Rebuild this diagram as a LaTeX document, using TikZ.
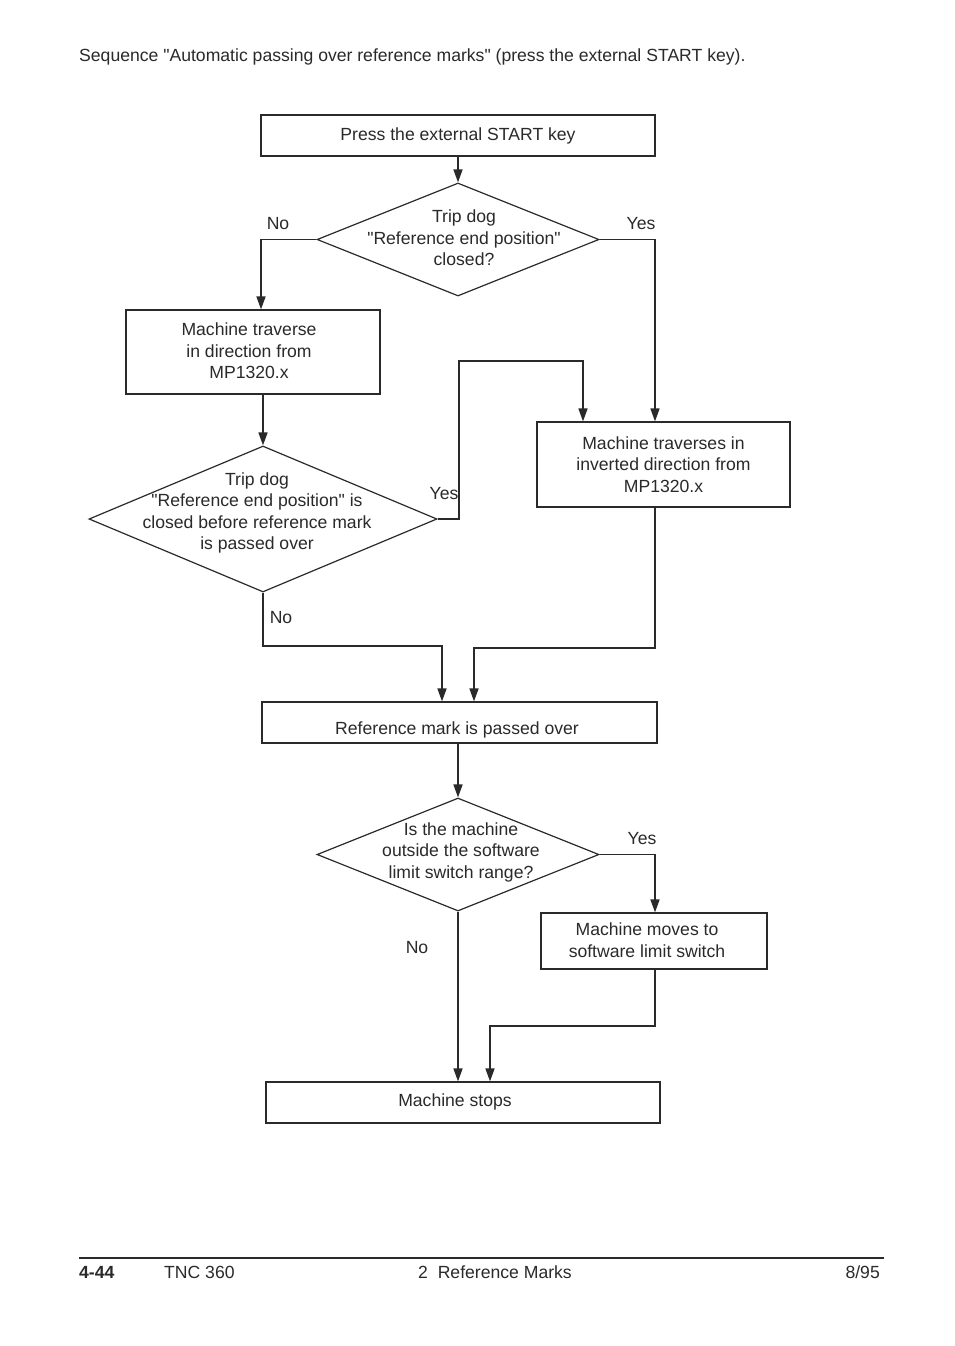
\documentclass[tikz,border=0pt]{standalone}
\usepackage{fontspec}
\setmainfont{Liberation Sans}[Ligatures=TeXOff]
\usetikzlibrary{arrows.meta,shapes.geometric}
\definecolor{ink}{HTML}{2A2A2A}
\newcommand{\sq}{{\char34}}
\begin{document}
\begin{tikzpicture}[x=1pt,y=-1pt,
  txt/.style={font=\fontsize{17.6}{21.5}\selectfont, text=ink, inner sep=0pt, align=center},
  box/.style={txt, draw=ink, line width=1.2pt},
  dec/.style={diamond, draw=ink, line width=1.2pt, inner sep=0pt},
  conn/.style={draw=ink, line width=1.6pt},
  arr/.style={conn, -{Triangle[length=13pt,width=9pt]}},
  lab/.style={txt}
]
\useasboundingbox (0,0) rectangle (954,1346);
\fill[white] (0,0) rectangle (954,1346);

% header
\node[txt, anchor=base west] (head) at (79,62) {Sequence \sq Automatic passing over reference marks\sq{} (press the external START key).};

% boxes
\node[box, minimum width=394pt, minimum height=41pt] (b1) at (458,135.5) {Press the external START key};
\node[box, minimum width=254pt, minimum height=84pt] (b2) at (253,352) {};
\node[txt] (b2t) at (249,351) {Machine traverse\\in direction from\\MP1320.x};
\node[box, minimum width=253pt, minimum height=85pt] (b3) at (663.5,464.5) {Machine traverses in\\inverted direction from\\MP1320.x};
\node[box, minimum width=395pt, minimum height=41pt] (b4) at (459.5,722.5) {};
\node[txt] (b4t) at (457,730) {Reference mark is passed over};
\node[box, minimum width=226pt, minimum height=56pt] (b5) at (654,941) {};
\node[txt] (b5t) at (647,940) {Machine moves to\\software limit switch};
\node[box, minimum width=394pt, minimum height=41pt] (b6) at (463,1102.5) {};
\node[txt] (b6t) at (455,1102) {Machine stops};

% decisions
\node[dec, minimum width=282pt, minimum height=113pt] (d1) at (458,239.5) {};
\node[txt] (d1t) at (464,238) {Trip dog\\\sq Reference end position\sq\\closed?};
\node[dec, minimum width=348pt, minimum height=146pt] (d2) at (263,519) {};
\node[txt] (d2t) at (257,513) {Trip dog\\\sq Reference end position\sq{} is\\closed before reference mark\\is passed over};
\node[dec, minimum width=282pt, minimum height=113pt] (d3) at (458,854.5) {};
\node[txt] (d3t) at (461,852) {Is the machine\\outside the software\\limit switch range?};

% branch labels
\node[lab] (l1) at (278,224) {No};
\node[lab] (l2) at (641,224) {Yes};
\node[lab] (l3) at (444,494) {Yes};
\node[lab] (l4) at (281,618) {No};
\node[lab] (l5) at (642,839) {Yes};
\node[lab] (l6) at (417,948) {No};

% helper coordinates
\coordinate (c1) at (459,361);
\coordinate (c2) at (442,646);
\coordinate (c3) at (474,648);
\coordinate (c4) at (490,1026);

% connectors
\draw[arr] (d1.north |- b1.south) -- (d1.north);
\draw[arr] (d1.west) -| ([xshift=8pt]b2.north);
\draw[arr] (d1.east) -| ([xshift=-8.5pt]b3.north);
\draw[arr] (d2.north |- b2.south) -- (d2.north);
\draw[arr] (d2.east) -| (c1) -| ([xshift=-80.5pt]b3.north);
\draw[arr] (d2.south) |- (c2) -- (c2 |- b4.north);
\draw[arr] ([xshift=-8.5pt]b3.south) |- (c3) -- (c3 |- b4.north);
\draw[arr] (d3.north |- b4.south) -- (d3.north);
\draw[arr] (d3.east) -| ([xshift=1pt]b5.north);
\draw[arr] (d3.south) -- (d3.south |- b6.north);
\draw[arr] ([xshift=1pt]b5.south) |- (c4) -- (c4 |- b6.north);

% footer
\coordinate (fl) at (79,1258);
\coordinate (fr) at (884,1258);
\draw[draw=ink, line width=1.4pt] (fl) -- (fr);
\node[txt, anchor=base west, font=\fontsize{17.6}{21.5}\selectfont\bfseries] (f1) at (79,1278) {4-44};
\node[txt, anchor=base west] (f2) at (164,1278) {TNC 360};
\node[txt, anchor=base west] (f3) at (418,1278) {2\ \ Reference Marks};
\node[txt, anchor=base east] (f4) at (880,1278) {8/95};
\end{tikzpicture}
\end{document}
